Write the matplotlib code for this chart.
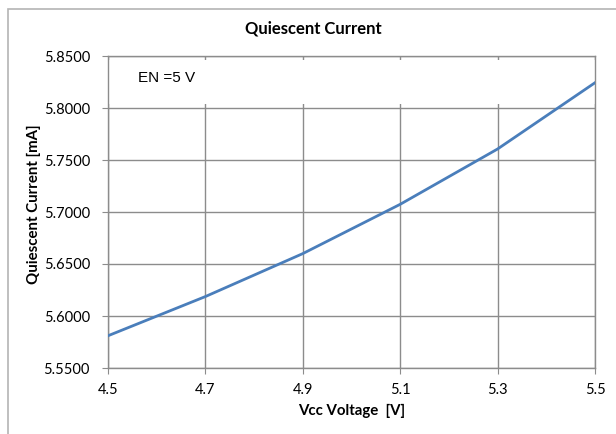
import numpy as np
import matplotlib.pyplot as plt
from matplotlib.patches import Rectangle

# data
vcc = [4.5, 4.7, 4.9, 5.1, 5.3, 5.5]
iq = [5.5810, 5.6187, 5.6600, 5.7074, 5.7606, 5.8243]
xticks = [4.5, 4.7, 4.9, 5.1, 5.3, 5.5]
yticks = [5.55, 5.60, 5.65, 5.70, 5.75, 5.80, 5.85]

grid_col = '#8c8c8c'
line_col = '#4a7ebb'
label_font = 'Lato'
text_font = 'Liberation Sans'

fig = plt.figure(figsize=(6.16, 4.34), dpi=100)
ax = fig.add_axes([108 / 616, 66 / 434, 487 / 616, 312 / 434])

# outer chart border (runs off the right and bottom)
fig.patches.append(Rectangle((8 / 616, -0.05), 1.0, (434 - 9) / 434 + 0.05,
                             transform=fig.transFigure, fill=False,
                             ec='#b4b4b4', lw=1.2))

ax.plot(vcc, iq, color=line_col, lw=2, zorder=3)

ax.set_xlim(4.5, 5.5)
ax.set_ylim(5.55, 5.85)
ax.set_xticks(xticks)
ax.set_yticks(yticks)
ax.set_xticklabels(['%.1f' % v for v in xticks], fontfamily=label_font, fontsize=10.5)
ax.set_yticklabels(['%.4f' % v for v in yticks], fontfamily=label_font, fontsize=10.5)
ax.grid(True, color=grid_col, lw=1)
ax.tick_params(direction='out', length=4, color=grid_col)
ax.tick_params(axis='y', pad=9)
ax.tick_params(axis='x', pad=7)
for s in ax.spines.values():
    s.set_color(grid_col)
    s.set_linewidth(1)
ax.set_axisbelow(True)

# white text box that hides the grid in the top band
ax.add_patch(Rectangle((0.0, 0.847), 1.0, 0.14, transform=ax.transAxes,
                       fc='white', ec='none', zorder=2))
ax.text(0.062, 0.928, 'EN =5 V', transform=ax.transAxes, fontfamily=text_font,
        fontsize=11, va='center', ha='left', zorder=4)

fig.text(313 / 616, 1 - 28.5 / 434, 'Quiescent Current', fontfamily=label_font,
         fontweight='bold', fontsize=12, ha='center', va='center')
ax.set_xlabel('Vcc Voltage  [V]', fontfamily=label_font, fontweight='bold',
              fontsize=10.8, labelpad=5)
ax.set_ylabel('Quiescent Current [mA]', fontfamily=label_font, fontweight='bold',
              fontsize=10.8)
ax.yaxis.set_label_coords(-0.137, 0.526)

fig.savefig('out.png', dpi=100)
